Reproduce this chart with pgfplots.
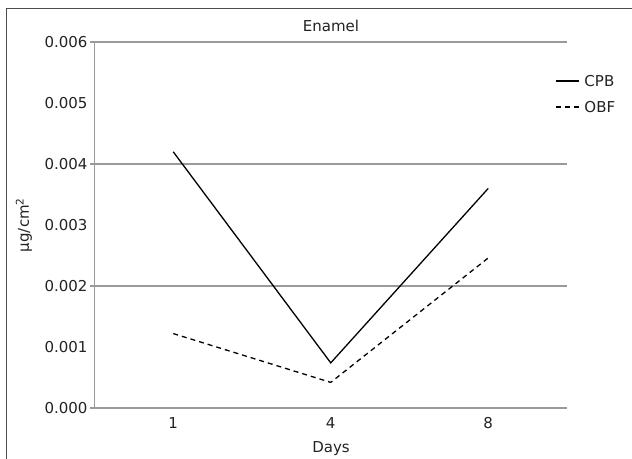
\documentclass[border=0pt]{standalone}
\usepackage{pgfplots}
\pgfplotsset{compat=1.18}
\usepackage{fontspec}
\setmainfont{DejaVu Sans}
\definecolor{gridgray}{HTML}{9A9A9A}
\definecolor{txt}{HTML}{222222}
\begin{document}
\begin{tikzpicture}[font=\fontsize{15bp}{18bp}\selectfont, text=txt]
\useasboundingbox (-94.5bp,-51bp) rectangle (537.5bp,408bp);
\draw[color=black!70, line width=1bp] (-87.5bp,-51bp) -- (-87.5bp,399bp) -- (537.5bp,399bp);
\begin{axis}[
  at={(0bp,0bp)}, anchor=south west,
  scale only axis,
  width=472.5bp, height=366bp,
  xmin=-0.5, xmax=2.5,
  ymin=0, ymax=0.006,
  axis x line*=bottom, axis y line*=left,
  axis line style={gridgray, line width=1.2bp, -},
  xtick={0,1,2}, xticklabels={1,4,8},
  ytick={0,0.001,0.002,0.003,0.004,0.005,0.006},
  major tick length=0bp,
  scaled y ticks=false,
  yticklabel style={/pgf/number format/fixed, /pgf/number format/fixed zerofill, /pgf/number format/precision=3, /pgf/number format/assume math mode=true, xshift=-3.5bp},
  xticklabel style={anchor=base, yshift=-20bp},
  extra y ticks={0,0.002,0.004,0.006},
  extra y tick labels={},
  extra y tick style={major tick length=4bp, tick align=outside, grid=major, major grid style={gridgray, line width=1.2bp}, tick style={gridgray, line width=1.2bp}},
  legend style={draw=none, fill=none, at={(rel axis cs:0.9746,0.9093)}, anchor=north west, inner sep=0pt, row sep=15bp, nodes={inner sep=0pt, text height=11bp, text depth=0bp}, font=\fontsize{15bp}{18bp}\selectfont},
  legend cell align=left,
  legend image code/.code={\draw[#1] (0bp,0bp) -- (23bp,0bp); \path (28bp,0bp);},
]
\addplot[black, line width=1.3bp] coordinates {(0,0.0042) (1,0.00074) (2,0.0036)};
\addlegendentry{CPB}
\addplot[black, line width=1.3bp, dash pattern=on 5bp off 4bp] coordinates {(0,0.00122) (1,0.00042) (2,0.00246)};
\addlegendentry{OBF}
\end{axis}
\node[anchor=base] at (236.5bp,376.3bp) {Enamel};
\node[anchor=base] at (236.5bp,-44bp) {Days};
\node[rotate=90] at (-70.5bp,183bp) {µg/cm\textsuperscript{2}};
\end{tikzpicture}
\end{document}
